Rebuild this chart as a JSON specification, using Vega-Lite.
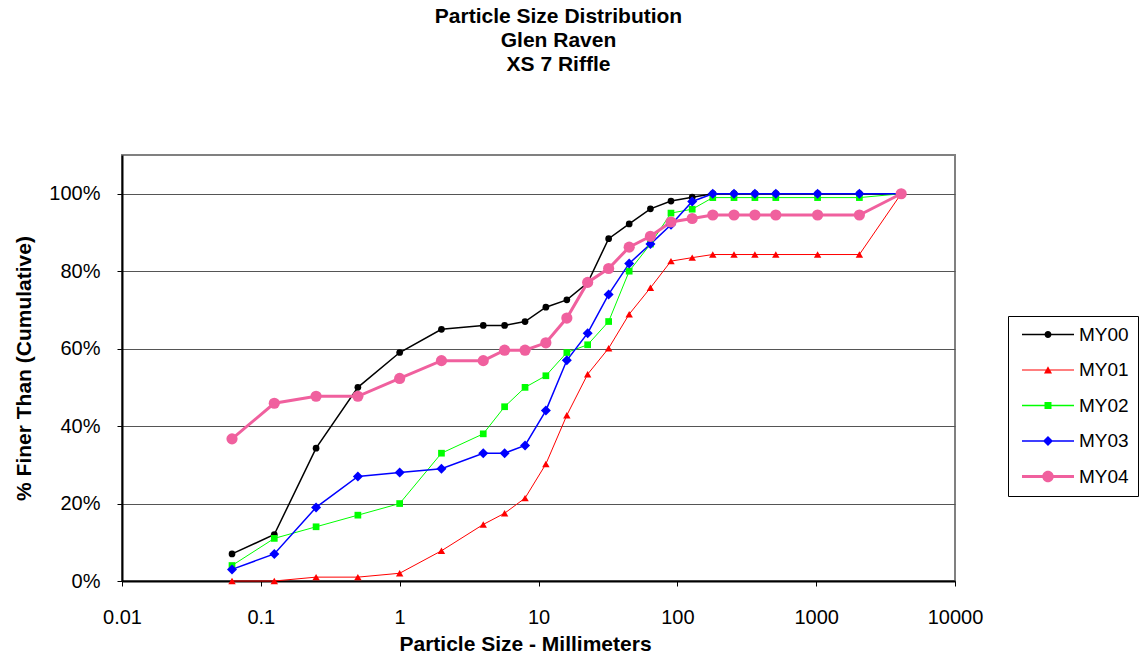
{
  "$schema": "https://vega.github.io/schema/vega-lite/v6.json",
  "width": 833,
  "height": 426,
  "autosize": "none",
  "padding": {"left": 122, "top": 155, "right": 184, "bottom": 78},
  "background": "white",
  "title": {
    "text": ["Particle Size Distribution", "Glen Raven", "XS 7 Riffle"],
    "font": "Liberation Sans",
    "fontSize": 21,
    "fontWeight": "bold",
    "lineHeight": 24,
    "anchor": "middle",
    "dx": 20,
    "offset": 80,
    "color": "black"
  },
  "config": {
    "view": {"stroke": "#808080", "strokeWidth": 2},
    "font": "Liberation Sans"
  },
  "data": {
    "values": [
      {"size": 0.062, "series": "MY00", "pct": 7},
      {"size": 0.125, "series": "MY00", "pct": 12},
      {"size": 0.25, "series": "MY00", "pct": 34.3},
      {"size": 0.5, "series": "MY00", "pct": 50},
      {"size": 1, "series": "MY00", "pct": 59},
      {"size": 2, "series": "MY00", "pct": 65},
      {"size": 4, "series": "MY00", "pct": 66},
      {"size": 5.7, "series": "MY00", "pct": 66},
      {"size": 8, "series": "MY00", "pct": 67},
      {"size": 11.3, "series": "MY00", "pct": 70.7},
      {"size": 16, "series": "MY00", "pct": 72.6},
      {"size": 22.6, "series": "MY00", "pct": 77},
      {"size": 32, "series": "MY00", "pct": 88.4},
      {"size": 45, "series": "MY00", "pct": 92.2},
      {"size": 64, "series": "MY00", "pct": 96.1},
      {"size": 90, "series": "MY00", "pct": 98.1},
      {"size": 128, "series": "MY00", "pct": 99.1},
      {"size": 180, "series": "MY00", "pct": 100},
      {"size": 256, "series": "MY00", "pct": 100},
      {"size": 362, "series": "MY00", "pct": 100},
      {"size": 512, "series": "MY00", "pct": 100},
      {"size": 1024, "series": "MY00", "pct": 100},
      {"size": 2048, "series": "MY00", "pct": 100},
      {"size": 4096, "series": "MY00", "pct": 100},

      {"size": 0.062, "series": "MY01", "pct": 0},
      {"size": 0.125, "series": "MY01", "pct": 0},
      {"size": 0.25, "series": "MY01", "pct": 1},
      {"size": 0.5, "series": "MY01", "pct": 1},
      {"size": 1, "series": "MY01", "pct": 2},
      {"size": 2, "series": "MY01", "pct": 7.8},
      {"size": 4, "series": "MY01", "pct": 14.6},
      {"size": 5.7, "series": "MY01", "pct": 17.5},
      {"size": 8, "series": "MY01", "pct": 21.4},
      {"size": 11.3, "series": "MY01", "pct": 30.2},
      {"size": 16, "series": "MY01", "pct": 42.8},
      {"size": 22.6, "series": "MY01", "pct": 53.4},
      {"size": 32, "series": "MY01", "pct": 60.1},
      {"size": 45, "series": "MY01", "pct": 68.9},
      {"size": 64, "series": "MY01", "pct": 75.7},
      {"size": 90, "series": "MY01", "pct": 82.6},
      {"size": 128, "series": "MY01", "pct": 83.5},
      {"size": 180, "series": "MY01", "pct": 84.3},
      {"size": 256, "series": "MY01", "pct": 84.3},
      {"size": 362, "series": "MY01", "pct": 84.3},
      {"size": 512, "series": "MY01", "pct": 84.3},
      {"size": 1024, "series": "MY01", "pct": 84.3},
      {"size": 2048, "series": "MY01", "pct": 84.3},
      {"size": 4096, "series": "MY01", "pct": 100},

      {"size": 0.062, "series": "MY02", "pct": 4},
      {"size": 0.125, "series": "MY02", "pct": 11},
      {"size": 0.25, "series": "MY02", "pct": 14},
      {"size": 0.5, "series": "MY02", "pct": 17},
      {"size": 1, "series": "MY02", "pct": 20},
      {"size": 2, "series": "MY02", "pct": 33},
      {"size": 4, "series": "MY02", "pct": 38},
      {"size": 5.7, "series": "MY02", "pct": 45},
      {"size": 8, "series": "MY02", "pct": 50},
      {"size": 11.3, "series": "MY02", "pct": 53},
      {"size": 16, "series": "MY02", "pct": 59},
      {"size": 22.6, "series": "MY02", "pct": 61},
      {"size": 32, "series": "MY02", "pct": 67},
      {"size": 45, "series": "MY02", "pct": 80},
      {"size": 64, "series": "MY02", "pct": 87},
      {"size": 90, "series": "MY02", "pct": 95},
      {"size": 128, "series": "MY02", "pct": 96},
      {"size": 180, "series": "MY02", "pct": 99},
      {"size": 256, "series": "MY02", "pct": 99},
      {"size": 362, "series": "MY02", "pct": 99},
      {"size": 512, "series": "MY02", "pct": 99},
      {"size": 1024, "series": "MY02", "pct": 99},
      {"size": 2048, "series": "MY02", "pct": 99},
      {"size": 4096, "series": "MY02", "pct": 100},

      {"size": 0.062, "series": "MY03", "pct": 3},
      {"size": 0.125, "series": "MY03", "pct": 7},
      {"size": 0.25, "series": "MY03", "pct": 19},
      {"size": 0.5, "series": "MY03", "pct": 27},
      {"size": 1, "series": "MY03", "pct": 28},
      {"size": 2, "series": "MY03", "pct": 29},
      {"size": 4, "series": "MY03", "pct": 33},
      {"size": 5.7, "series": "MY03", "pct": 33},
      {"size": 8, "series": "MY03", "pct": 35},
      {"size": 11.3, "series": "MY03", "pct": 44},
      {"size": 16, "series": "MY03", "pct": 57},
      {"size": 22.6, "series": "MY03", "pct": 64},
      {"size": 32, "series": "MY03", "pct": 74},
      {"size": 45, "series": "MY03", "pct": 82},
      {"size": 64, "series": "MY03", "pct": 87},
      {"size": 90, "series": "MY03", "pct": 92},
      {"size": 128, "series": "MY03", "pct": 98},
      {"size": 180, "series": "MY03", "pct": 100},
      {"size": 256, "series": "MY03", "pct": 100},
      {"size": 362, "series": "MY03", "pct": 100},
      {"size": 512, "series": "MY03", "pct": 100},
      {"size": 1024, "series": "MY03", "pct": 100},
      {"size": 2048, "series": "MY03", "pct": 100},
      {"size": 4096, "series": "MY03", "pct": 100},

      {"size": 0.062, "series": "MY04", "pct": 36.7},
      {"size": 0.125, "series": "MY04", "pct": 45.9},
      {"size": 0.25, "series": "MY04", "pct": 47.7},
      {"size": 0.5, "series": "MY04", "pct": 47.7},
      {"size": 1, "series": "MY04", "pct": 52.3},
      {"size": 2, "series": "MY04", "pct": 56.9},
      {"size": 4, "series": "MY04", "pct": 56.9},
      {"size": 5.7, "series": "MY04", "pct": 59.6},
      {"size": 8, "series": "MY04", "pct": 59.6},
      {"size": 11.3, "series": "MY04", "pct": 61.5},
      {"size": 16, "series": "MY04", "pct": 67.9},
      {"size": 22.6, "series": "MY04", "pct": 77.1},
      {"size": 32, "series": "MY04", "pct": 80.7},
      {"size": 45, "series": "MY04", "pct": 86.2},
      {"size": 64, "series": "MY04", "pct": 89},
      {"size": 90, "series": "MY04", "pct": 92.7},
      {"size": 128, "series": "MY04", "pct": 93.6},
      {"size": 180, "series": "MY04", "pct": 94.5},
      {"size": 256, "series": "MY04", "pct": 94.5},
      {"size": 362, "series": "MY04", "pct": 94.5},
      {"size": 512, "series": "MY04", "pct": 94.5},
      {"size": 1024, "series": "MY04", "pct": 94.5},
      {"size": 2048, "series": "MY04", "pct": 94.5},
      {"size": 4096, "series": "MY04", "pct": 100}
    ]
  },
  "encoding": {
    "x": {
      "field": "size",
      "type": "quantitative",
      "scale": {"type": "log", "domain": [0.01, 10000], "nice": false},
      "axis": {
        "values": [0.01, 0.1, 1, 10, 100, 1000, 10000],
        "format": "~g",
        "title": "Particle Size - Millimeters",
        "titleFont": "Liberation Sans",
        "titleFontSize": 21,
        "titleFontWeight": "bold",
        "titleColor": "black",
        "titlePadding": 6,
        "titleX": 403,
        "labelFont": "Liberation Sans",
        "labelFontSize": 20,
        "labelColor": "black",
        "labelPadding": 21,
        "labelFlush": false,
        "labelOverlap": false,
        "tickColor": "black",
        "tickSize": 5,
        "domainColor": "black",
        "domainWidth": 2,
        "grid": false
      }
    },
    "y": {
      "field": "pct",
      "type": "quantitative",
      "scale": {"domain": [0, 110], "nice": false},
      "axis": {
        "values": [0, 20, 40, 60, 80, 100],
        "labelExpr": "datum.value + '%'",
        "title": "% Finer Than (Cumulative)",
        "titleFont": "Liberation Sans",
        "titleFontSize": 21,
        "titleFontWeight": "bold",
        "titleColor": "black",
        "titlePadding": 14,
        "labelFont": "Liberation Sans",
        "labelFontSize": 20,
        "labelColor": "black",
        "labelPadding": 17,
        "tickColor": "black",
        "tickSize": 5,
        "domainColor": "black",
        "domainWidth": 2,
        "grid": true,
        "gridColor": "#555555",
        "gridWidth": 1
      }
    }
  },
  "layer": [
    {
      "mark": {"type": "point", "filled": true, "opacity": 0},
      "encoding": {
        "color": {
          "field": "series",
          "type": "nominal",
          "scale": {
            "domain": ["MY00", "MY01", "MY02", "MY03", "MY04"],
            "range": ["#000000", "#FF0000", "#00FF00", "#0000FF", "#F0609E"]
          },
          "legend": {
            "orient": "none",
            "legendX": 886,
            "legendY": 161,
            "title": null,
            "strokeColor": "black",
            "fillColor": "white",
            "padding": 9,
            "rowPadding": 15.5,
            "labelFont": "Liberation Sans",
            "labelFontSize": 19,
            "labelColor": "black",
            "labelOffset": 43,
            "symbolSize": 361,
            "symbolStrokeWidth": 0,
            "symbolOpacity": 1
          }
        },
        "shape": {
          "field": "series",
          "type": "nominal",
          "scale": {
            "domain": ["MY00", "MY01", "MY02", "MY03", "MY04"],
            "range": [
              "M-0.474,-0.079H5V0.079H-0.474ZM1.895,0C1.895,-0.2034 2.0596,-0.368 2.263,-0.368C2.4664,-0.368 2.631,-0.2034 2.631,0C2.631,0.2034 2.4664,0.368 2.263,0.368C2.0596,0.368 1.895,0.2034 1.895,0Z",
              "M-0.474,-0.053H5V0.053H-0.474ZM2.263,-0.39L2.684,0.358L1.842,0.358Z",
              "M-0.474,-0.068H5V0.068H-0.474ZM1.895,-0.368H2.631V0.368H1.895Z",
              "M-0.474,-0.079H5V0.079H-0.474ZM1.737,0L2.263,-0.526L2.789,0L2.263,0.526Z",
              "M-0.474,-0.158H5V0.158H-0.474ZM1.658,0C1.658,-0.334 1.929,-0.605 2.263,-0.605C2.597,-0.605 2.868,-0.334 2.868,0C2.868,0.334 2.597,0.605 2.263,0.605C1.929,0.605 1.658,0.334 1.658,0Z"
            ]
          },
          "legend": {
            "orient": "none",
            "legendX": 886,
            "legendY": 161,
            "title": null,
            "strokeColor": "black",
            "fillColor": "white",
            "padding": 9,
            "rowPadding": 15.5,
            "labelFont": "Liberation Sans",
            "labelFontSize": 19,
            "labelColor": "black",
            "labelOffset": 43,
            "symbolSize": 361,
            "symbolStrokeWidth": 0,
            "symbolOpacity": 1
          }
        }
      }
    },
    {
      "mark": {"type": "line"},
      "encoding": {
        "color": {"field": "series", "type": "nominal"},
        "strokeWidth": {
          "condition": [
            {"test": "datum.series === 'MY04'", "value": 3},
            {"test": "datum.series === 'MY01' || datum.series === 'MY02'", "value": 1}
          ],
          "value": 1.5
        }
      }
    },
    {
      "mark": {"type": "point", "filled": true, "opacity": 1},
      "encoding": {
        "color": {"field": "series", "type": "nominal"},
        "shape": {
          "condition": [
            {"test": "datum.series === 'MY01'", "value": "triangle-up"},
            {"test": "datum.series === 'MY02'", "value": "square"},
            {"test": "datum.series === 'MY03'", "value": "diamond"}
          ],
          "value": "circle"
        },
        "size": {
          "condition": [
            {"test": "datum.series === 'MY04'", "value": 125},
            {"test": "datum.series === 'MY03'", "value": 100},
            {"test": "datum.series === 'MY01'", "value": 55}
          ],
          "value": 45
        }
      }
    }
  ]
}
